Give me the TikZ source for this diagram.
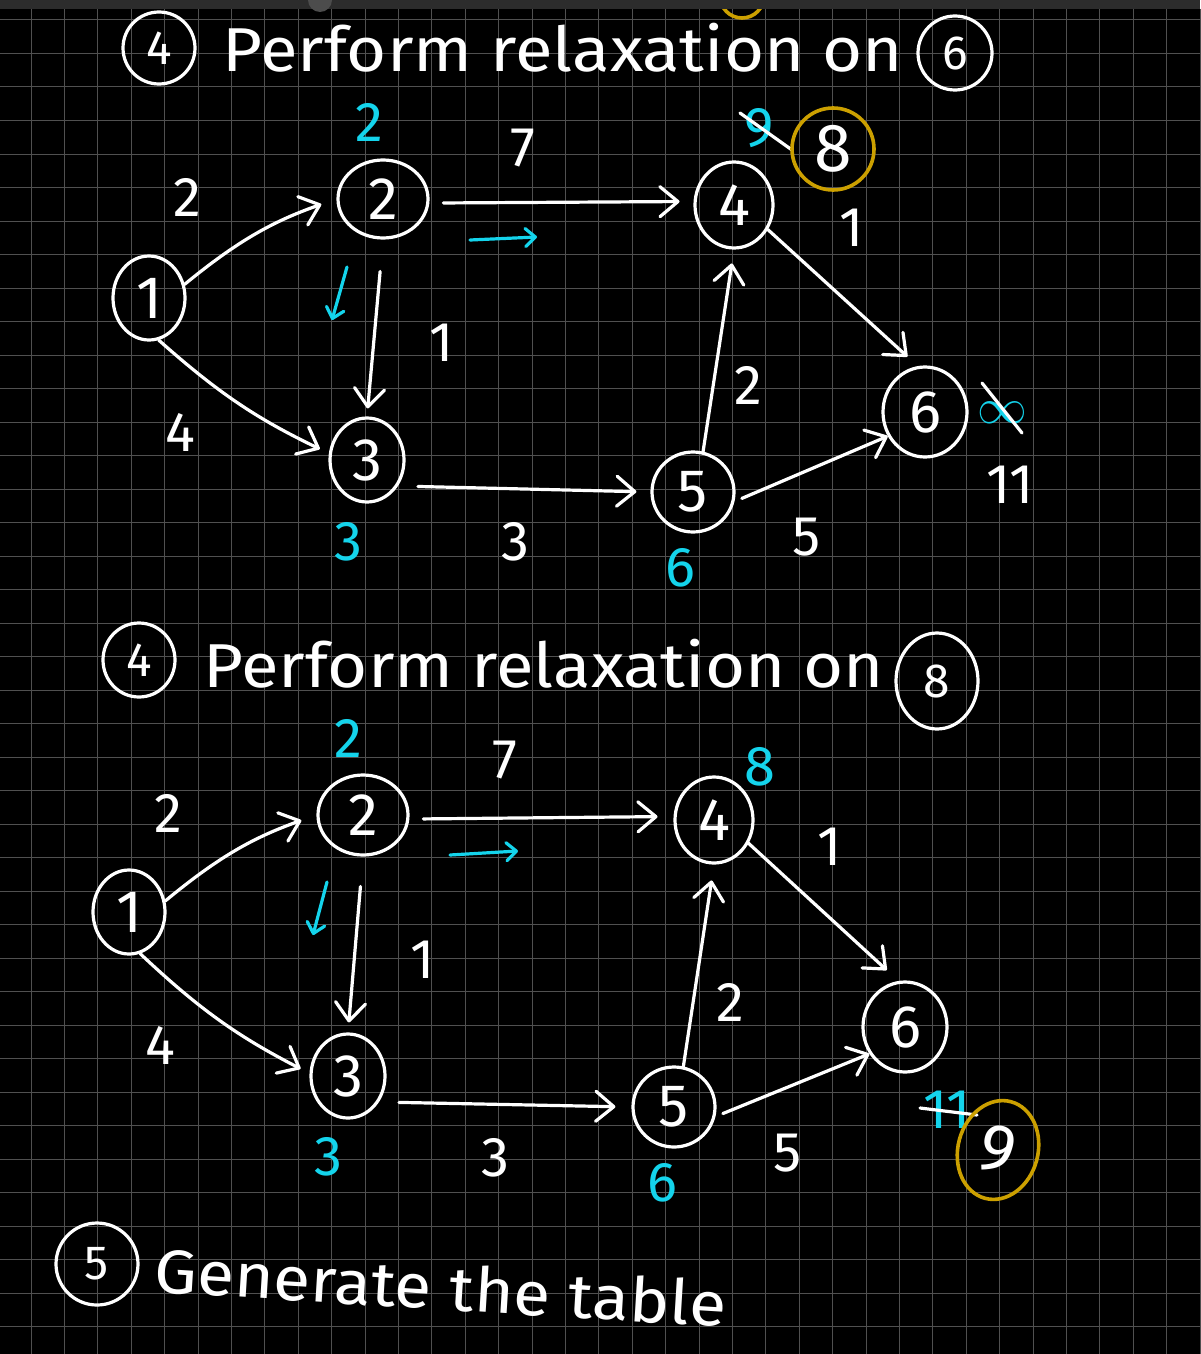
\documentclass[tikz,border=0pt]{standalone}
\usepackage{fontspec}
\setmainfont{Fira Sans}
\usetikzlibrary{shapes.geometric,arrows.meta}
\definecolor{bgbar}{RGB}{44,44,44}
\definecolor{gridc}{RGB}{80,80,80}
\definecolor{hcyan}{RGB}{20,212,236}
\definecolor{hgold}{RGB}{204,160,0}
\newcommand{\fnum}{\fontsize{30}{34}\selectfont}
\newcommand{\fbig}{\fontsize{34}{38}\selectfont}
\newcommand{\flab}{\fontsize{28}{32}\selectfont}
\newcommand{\fsmall}{\fontsize{24}{28}\selectfont}
\newcommand{\ftitle}{\fontsize{31}{36}\selectfont}
\begin{document}
\begin{tikzpicture}[x=0.5pt,y=-0.5pt,
  vtx/.style={ellipse, draw=white, line width=1.6pt, inner sep=0pt, text=white, font=\fnum},
  tvtx/.style={ellipse, draw=white, line width=1.6pt, inner sep=0pt, text=white, font=\fsmall},
  gvtx/.style={ellipse, draw=hgold, line width=1.8pt, inner sep=0pt, text=white, font=\fbig},
  warrow/.style={draw=white, line width=1.6pt, line cap=round, -{Straight Barb[length=9pt,width=15pt,round]}},
  carrow/.style={draw=hcyan, line width=1.6pt, line cap=round, -{Straight Barb[length=5pt,width=9pt,round]}},
  wlab/.style={text=white, font=\flab, inner sep=0pt},
  clab/.style={text=hcyan, font=\flab, inner sep=0pt},
  strike/.style={draw=white, line width=1.6pt, line cap=round},
  ttl/.style={text=white, font=\ftitle, inner sep=0pt, anchor=base west},
]
\useasboundingbox (0,0) rectangle (1200,1354);
\fill[black] (0,0) rectangle (1200,1354);
% grid
\foreach \i in {0,...,35} {\draw[gridc, line width=0.5pt] ({31+33.4*\i},9) -- ({31+33.4*\i},1354);}
\foreach \j in {0,...,39} {\draw[gridc, line width=0.5pt] (0,{20+33.5*\j}) -- (1200,{20+33.5*\j});}
% top bar
\draw[hgold, line width=1.8pt] (742,-4) circle [radius=22];
\fill[bgbar] (0,0) rectangle (1200,9);
\fill[gray!60!black] (320,0) circle [radius=12];

% ---------- title 1
\node[tvtx, minimum width=36pt, minimum height=36pt] (t1a) at (159,48) {4};
\node[ttl] (t1txt) at (222,72) {\scalebox{1.11}[1]{Perform relaxation on}};
\node[tvtx, minimum width=37pt, minimum height=37pt] (t1b) at (955,53) {6};

% ---------- graph 1
\node[vtx, minimum width=36pt, minimum height=42pt] (a1) at (149,298) {1};
\node[vtx, minimum width=45pt, minimum height=39pt] (a2) at (383,199) {2};
\node[vtx, minimum width=37pt, minimum height=42pt] (a3) at (367,460) {3};
\node[vtx, minimum width=39pt, minimum height=43pt] (a4) at (734,205) {4};
\node[vtx, minimum width=41pt, minimum height=40pt] (a5) at (693,492) {5};
\node[vtx, minimum width=42pt, minimum height=45pt] (a6) at (925,412) {6};

\draw[warrow, shorten >=8pt] (a1.21) to[bend left=10] (a2.180);
\draw[warrow, shorten >=5pt] (a1.-77) to[bend right=8] (a3.170);
\draw[warrow, shorten <=16pt, shorten >=4pt] (a2.south) -- (a3.north);
\draw[warrow, shorten <=7pt, shorten >=7pt] (a2.-5) -- (a4.175);
\draw[warrow, shorten <=10pt, shorten >=7pt] (a3.-40) -- (a5.west);
\draw[warrow, shorten >=7pt] (a5.76) -- (a4.south);
\draw[warrow, shorten >=7pt] (a4.-36) -- (a6.99);
\draw[warrow, shorten <=4pt] (a5.-13) -- (a6.213);

\node[wlab] (la12) at (187,197) {2};
\node[wlab] (la13) at (180,432) {4};
\node[wlab] (la23) at (442,343) {1};
\node[wlab] (la24) at (523,148) {7};
\node[wlab] (la46) at (852,228) {1};
\node[wlab] (la54) at (748,385) {2};
\node[wlab] (la35) at (515,542) {3};
\node[wlab] (la56) at (807,537) {5};

\node[clab] (da2) at (369,122) {2};
\node[clab] (da3) at (348,542) {3};
\node[clab] (da5) at (680,568) {6};
\node[clab] (da4old) at (759,128) {9};
\coordinate (sa1) at (740,113); \coordinate (sa2) at (792,150);
\draw[strike] (sa1) -- (sa2);
\node[gvtx, minimum width=41pt, minimum height=41pt] (da4) at (833,149) {8};
\node[clab, font=\fbig] (da6old) at (1002,413) {$\infty$};
\coordinate (sb1) at (982,383); \coordinate (sb2) at (1022,433);
\draw[strike] (sb1) -- (sb2);
\node[wlab] (da6) at (1010,485) {11};

\coordinate (ca1) at (470,240); \coordinate (ca2) at (537,237);
\draw[carrow] (ca1) -- (ca2);
\coordinate (cb1) at (347,267); \coordinate (cb2) at (332,320);
\draw[carrow] (cb1) -- (cb2);

% ---------- title 2
\node[tvtx, minimum width=36pt, minimum height=37pt] (t2a) at (139,660) {4};
\node[ttl] (t2txt) at (203,687) {\scalebox{1.11}[1]{Perform relaxation on}};
\node[tvtx, minimum width=41pt, minimum height=48pt] (t2b) at (937,681) {8};

% ---------- graph 2
\node[vtx, minimum width=36pt, minimum height=42pt] (b1) at (129,912) {1};
\node[vtx, minimum width=45pt, minimum height=40pt] (b2) at (363,815) {2};
\node[vtx, minimum width=37pt, minimum height=42pt] (b3) at (348,1076) {3};
\node[vtx, minimum width=39pt, minimum height=43pt] (b4) at (714,820) {4};
\node[vtx, minimum width=41pt, minimum height=40pt] (b5) at (674,1107) {5};
\node[vtx, minimum width=42pt, minimum height=45pt] (b6) at (905,1027) {6};

\draw[warrow, shorten >=8pt] (b1.17) to[bend left=10] (b2.180);
\draw[warrow, shorten >=5pt] (b1.-75) to[bend right=8] (b3.176);
\draw[warrow, shorten <=15pt, shorten >=5pt] (b2.south) -- (b3.north);
\draw[warrow, shorten <=7pt, shorten >=8pt] (b2.-5) -- (b4.175);
\draw[warrow, shorten <=10pt, shorten >=8pt] (b3.-40) -- (b5.west);
\draw[warrow, shorten >=8pt] (b5.77) -- (b4.south);
\draw[warrow, shorten >=8pt] (b4.-34) -- (b6.98);
\draw[warrow, shorten <=4pt] (b5.-13) -- (b6.217);

\node[wlab] (lb12) at (168,813) {2};
\node[wlab] (lb13) at (160,1045) {4};
\node[wlab] (lb23) at (423,960) {1};
\node[wlab] (lb24) at (505,760) {7};
\node[wlab] (lb46) at (830,847) {1};
\node[wlab] (lb54) at (730,1002) {2};
\node[wlab] (lb35) at (495,1158) {3};
\node[wlab] (lb56) at (788,1153) {5};

\node[clab] (db2) at (348,738) {2};
\node[clab] (db4) at (760,767) {8};
\node[clab] (db3) at (328,1157) {3};
\node[clab] (db5) at (662,1183) {6};
\node[clab] (db6old) at (947,1110) {11};
\coordinate (sc1) at (920,1108); \coordinate (sc2) at (977,1115);
\draw[strike] (sc1) -- (sc2);
\node[gvtx, minimum width=40pt, minimum height=50pt, rotate=-15] (db6) at (998,1150) {9};

\coordinate (cc1) at (450,855); \coordinate (cc2) at (518,851);
\draw[carrow] (cc1) -- (cc2);
\coordinate (cd1) at (327,882); \coordinate (cd2) at (313,935);
\draw[carrow] (cd1) -- (cd2);

% ---------- title 3
\node[tvtx, minimum width=41pt, minimum height=41pt] (t3a) at (97,1264) {5};
\node[ttl, rotate=-3.5] (t3txt) at (153,1292) {\scalebox{1.095}[1]{Generate the table}};
\end{tikzpicture}
\end{document}
